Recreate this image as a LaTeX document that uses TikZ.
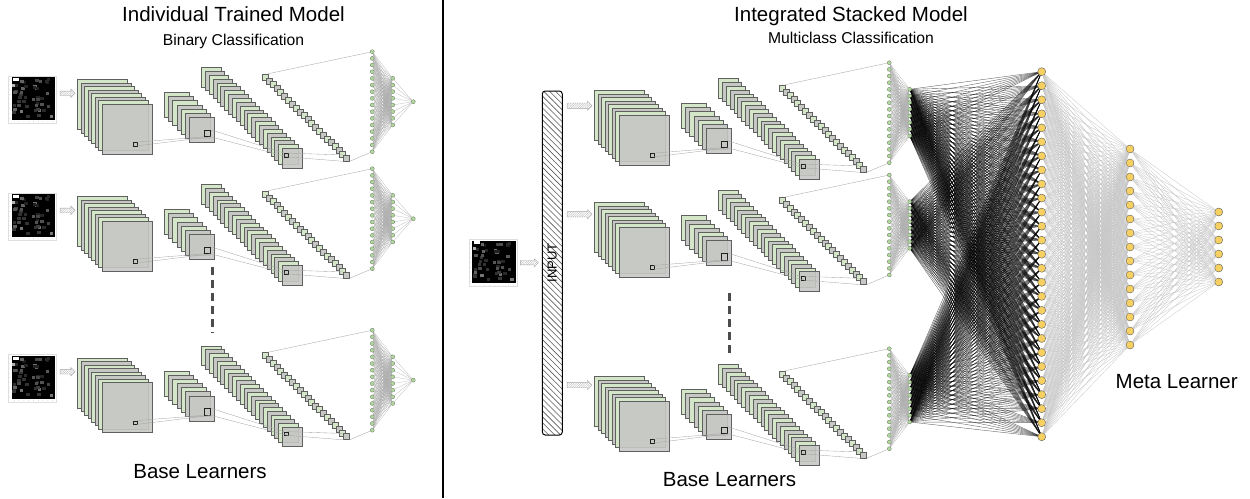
\documentclass[tikz,border=0pt]{standalone}
\usepackage{fontspec}
\setmainfont{Liberation Sans}
\usetikzlibrary{shapes.arrows,patterns.meta,positioning,calc}

\begin{document}
\begin{tikzpicture}[
            x=1pt, y=-1pt,
            fmap/.style={draw=gray!75!black, line width=0.35pt},
            map0/.style={fmap, fill=mapgreen},
            map1/.style={fmap, fill=mapgray},
            map2/.style={fmap, fill=mapgray, fill opacity=0.9},
            kernel/.style={rectangle, draw=gray!25!black, line width=0.4pt, inner sep=0pt},
            link/.style={gray!70, line width=0.35pt},
            gnode/.style={circle, draw=nodegreen!55!black, fill=nodegreen, line width=0.3pt, inner sep=0pt, minimum size=4pt},
            ynode/.style={circle, draw=gray!70!black, fill=nodeyellow, line width=0.4pt, inner sep=0pt, minimum size=8pt},
            fan/.style={gray!65, line width=0.2pt},
            darkfan/.style={black, opacity=0.6, line width=0.4pt},
            lightfan/.style={gray!45, line width=0.3pt},
            hatarrow/.style={single arrow, draw=gray!70, pattern={Lines[angle=45,distance=1.6pt,line width=0.35pt]}, pattern color=gray!60, inner sep=2pt, single arrow head extend=2pt, line width=0.4pt},
            inbar/.style={rectangle, rounded corners=3pt, draw=black, line width=1pt, pattern={Lines[angle=-45,distance=4.2pt,line width=0.6pt]}, pattern color=gray!70!black, minimum width=20pt, minimum height=344pt, inner sep=0pt},
            dots/.style={gray!60!black, line width=2.5pt, dash pattern=on 8pt off 5pt},
            titletext/.style={font=\fontsize{20.5}{24}\selectfont, anchor=base},
            subtext/.style={font=\fontsize{15.7}{18}\selectfont, anchor=base},
            thumb/.pic={
                \draw[gray!25, fill=white, line width=0.4pt] (0,0) rectangle (47.7,47.3);
                \fill[black] (3.4,1.3) rectangle (46.7,44);
                \pgfmathsetseed{11}
                \foreach \i in {1,...,45}{
                    \pgfmathsetmacro\px{4+rnd*38}
                    \pgfmathsetmacro\py{2+rnd*38}
                    \pgfmathtruncatemacro\lv{8+rnd*40}
                    \fill[white!\lv!black] (\px,\py) rectangle ++(3.5,3);
                }
                \fill[white] (5,2) rectangle ++(6,3);
                \fill[white!70!black] (4,8) rectangle ++(3,3);
                \foreach \t in {0,...,8}{
                    \fill[gray!60] (1.6,{4+4.8*\t}) circle (0.35);
                    \fill[gray!60] ({6+4.8*\t},45.8) circle (0.35);
                }
            },
            learner/.pic={
                % feature maps
                \foreach \x/\y/\n/\st/\sz in {77.3/79.3/8/3.5/50, 164.3/92.3/7/4.17/25, 201.3/67.3/22/3.857/19.5}{
                    \pgfmathtruncatemacro\last{\n-1}
                    \foreach \s in {0,...,\last}{
                        \pgfmathtruncatemacro\c{ifthenelse(\s==\last,2,mod(\s,2))}
                        \draw[map\c] ({\x+\st*\s},{\y+\st*\s}) rectangle ++(\sz,\sz);
                    }
                }
                \foreach \s in {0,...,21}{
                    \pgfmathtruncatemacro\c{ifthenelse(\s==21,1,mod(\s,2))}
                    \node[map\c, rectangle, minimum size=6pt, inner sep=0pt, anchor=north west] (-d\s) at ({262+3.87*\s},{73.7+3.87*\s}) {};
                }
                % kernels
                \node[kernel, minimum size=3.4pt] (-ka) at (135,144) {};
                \node[kernel, minimum size=6.7pt] (-kb) at (207.3,133.3) {};
                \node[kernel, minimum size=3.4pt] (-kc) at (286,155) {};
                \draw[link] (-ka.north east) -- (-kb.south west);
                \draw[link] (-ka.south east) -- (-kb.south east);
                \draw[link] (-kb.north east) -- (-kc.north west);
                \draw[link] (-kb.south east) -- (-kc.south east);
                \draw[link] (-kc.north east) -- (-d21.north west);
                \draw[link] (-kc.south east) -- (-d21.south west);
                % dense layers
                \foreach \i in {1,...,16} \node[gnode] (-c\i) at (372.3,{51.7+6.667*(\i-1)}) {};
                \foreach \j in {1,...,8} \node[gnode] (-k\j) at (392.7,{78.3+6.667*(\j-1)}) {};
                \draw[link] (-d0.north east) -- (-c1);
                \draw[link] (-d21.south east) -- (-c16);
                \foreach \i in {1,...,16} \foreach \j in {1,...,8} \draw[fan] (-c\i) -- (-k\j);
            }
        ]

        % Define colors
        \definecolor{mapgreen}{RGB}{212,230,200}
        \definecolor{mapgray}{RGB}{198,200,196}
        \definecolor{nodegreen}{RGB}{178,214,160}
        \definecolor{nodeyellow}{RGB}{246,208,96}

        \useasboundingbox (0,0) rectangle (1250,498);

        % Titles
        \node[titletext] (t1) at (233.5,21) {Individual Trained Model};
        \node[subtext] (s1) at (233.5,45) {Binary Classification};
        \node[titletext] (t2) at (851,21) {Integrated Stacked Model};
        \node[subtext] (s2) at (851,43) {Multiclass Classification};

        % Separator
        \draw[line width=2pt] (443,0) -- (443,498);

        % Individual base learners
        \foreach \r/\dy in {1/0, 2/117, 3/278.5}{
            \pic (img\r) at (8.3,{76+\dy}) {thumb};
            \node[hatarrow, minimum height=15pt] (la\r) at (66.5,{93.3+\dy}) {};
            \pic (L\r) at (0,\dy) {learner};
            \node[gnode] (out\r) at (413.3,{101.7+\dy}) {};
            \foreach \j in {1,...,8} \draw[fan] (L\r-k\j) -- (out\r);
        }
        \draw[dots] (212.3,267.3) -- (212.3,333.3);
        \node[titletext] (b1) at (200,478) {Base Learners};

        % Stacked model: input
        \pic (imgR) at (469,239.3) {thumb};
        \node[hatarrow, minimum height=18pt] (ia) at (528.3,262.7) {};
        \node[inbar] (input) at (552.3,263) {};
        \node[font=\fontsize{13}{15}\selectfont, rotate=90] (intext) at (input) {INPUT};

        % Stacked model: base learners
        \foreach \r/\dy/\ay in {1/11/105.7, 2/123.3/214.3, 3/297/385}{
            \node[hatarrow, minimum height=25pt, inner sep=2.5pt] (ra\r) at (578.3,\ay) {};
            \pic (R\r) at (517,\dy) {learner};
        }
        \draw[dots] (729.3,293) -- (729.3,354);
        \node[titletext] (b2) at (729.5,486) {Base Learners};

        % Meta learner
        \foreach \i in {1,...,27} \node[ynode] (y\i) at (1041.7,{71.7+14.04*(\i-1)}) {};
        \foreach \i in {1,...,15} \node[ynode] (m\i) at (1130,{149+14*(\i-1)}) {};
        \foreach \i in {1,...,6} \node[ynode] (z\i) at (1218.7,{212+14*(\i-1)}) {};

        \foreach \r in {1,2,3} \foreach \j in {1,...,8} \foreach \i in {1,...,27}
            \draw[darkfan] (R\r-k\j) -- (y\i);
        \foreach \i in {1,...,27} \foreach \j in {1,...,15} \draw[lightfan] (y\i) -- (m\j);
        \foreach \i in {1,...,15} \foreach \j in {1,...,6} \draw[lightfan] (m\i) -- (z\j);

        \node[titletext] (meta) at (1176.7,388) {Meta Learner};

\end{tikzpicture}
\end{document}
